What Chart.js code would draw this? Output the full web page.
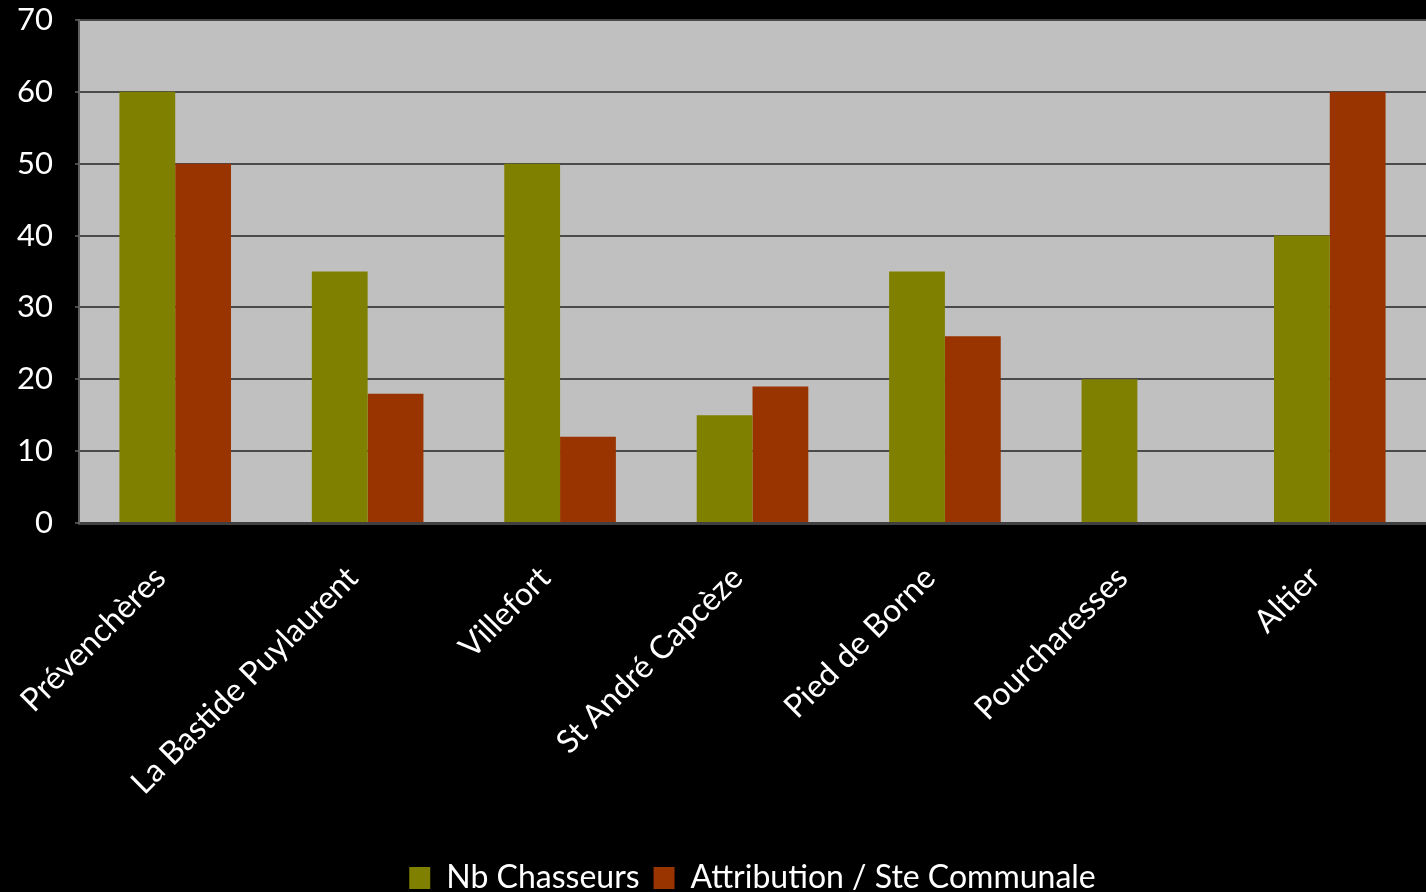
<!DOCTYPE html>
<html>
<head>
<meta charset="utf-8">
<script src="https://cdn.jsdelivr.net/npm/chart.js@4/dist/chart.umd.min.js"></script>
<style>
  html, body { margin: 0; padding: 0; background: #000; }
  #wrap { width: 1426px; height: 892px; position: relative; }
</style>
</head>
<body>
<div id="wrap"><canvas id="chart"></canvas></div>
<script>
const communes = ['Prévenchères', 'La Bastide Puylaurent', 'Villefort', 'St André Capcèze', 'Pied de Borne', 'Pourcharesses', 'Altier'];
const nbChasseurs = [60, 35, 50, 15, 35, 20, 40];
const attribution = [50, 18, 12, 19, 26, 0, 60];

const fontFamily = 'Lato, "Open Sans", sans-serif';

// fond gris de la zone de tracé
const plotBg = {
  id: 'plotBg',
  beforeDraw(chart) {
    const a = chart.chartArea;
    const c = chart.ctx;
    c.save();
    c.fillStyle = '#c0c0c0';
    c.fillRect(a.left, a.top, a.right - a.left, a.bottom - a.top);
    c.restore();
  }
};

const ctx = document.getElementById('chart').getContext('2d');

new Chart(ctx, {
  type: 'bar',
  data: {
    labels: communes,
    datasets: [
      {
        label: 'Nb Chasseurs',
        data: nbChasseurs,
        backgroundColor: '#808000',
        categoryPercentage: 0.58,
        barPercentage: 1.0
      },
      {
        label: 'Attribution / Ste Communale',
        data: attribution,
        backgroundColor: '#993300',
        categoryPercentage: 0.58,
        barPercentage: 1.0
      }
    ]
  },
  options: {
    responsive: true,
    maintainAspectRatio: false,
    animation: false,
    layout: {
      padding: { left: 0, right: 0, top: 0, bottom: -12 }
    },
    plugins: {
      legend: {
        display: true,
        position: 'bottom',
        fullSize: false,
        labels: {
          color: '#fff',
          font: { family: fontFamily, size: 32 },
          boxWidth: 21,
          boxHeight: 22,
          padding: 14
        }
      },
      tooltip: { enabled: false }
    },
    scales: {
      x: {
        grid: { display: false },
        border: { color: '#404040', width: 3 },
        ticks: {
          color: '#fff',
          font: { family: fontFamily, size: 32 },
          minRotation: 45,
          maxRotation: 45,
          padding: 28,
          labelOffset: -15
        },
        afterFit(scale) {
          scale.height = 325;
        }
      },
      y: {
        min: 0,
        max: 70,
        ticks: {
          stepSize: 10,
          color: '#fff',
          font: { family: fontFamily, size: 31 },
          padding: 22
        },
        grid: {
          color: '#4a4a4a',
          lineWidth: 2,
          tickLength: 4
        },
        border: { color: '#606060', width: 2 },
        afterFit(scale) {
          scale.width = 79;
          scale.paddingTop = 20;
        }
      }
    }
  },
  plugins: [plotBg]
});
</script>
</body>
</html>
